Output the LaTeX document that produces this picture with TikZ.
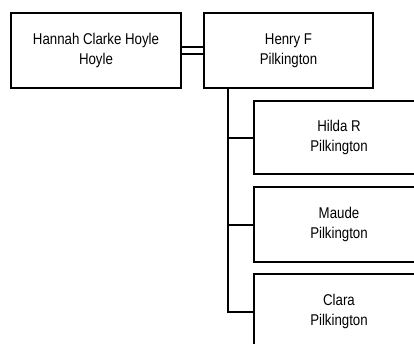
\documentclass[tikz,border=0pt]{standalone}
\usepackage{fontspec}
\setmainfont{Liberation Sans}[FakeStretch=0.85]
\begin{document}
\begin{tikzpicture}[x=1pt,y=-1pt,
  person/.style={draw=black, line width=2pt, fill=white, minimum width=170pt, minimum height=75pt,
    inner sep=0pt, align=center, font=\fontsize{15.6pt}{20.5pt}\selectfont},
  link/.style={draw=black, line width=2pt}]
\clip (0,0) rectangle (414,343);
\fill[white] (0,0) rectangle (414,343);
\node[person] (hannah) at (96,50.5) {Hannah Clarke Hoyle\\Hoyle};
\node[person, minimum width=169pt] (henry) at (288.5,50.5) {Henry F\\Pilkington};
\node[person, minimum height=73pt] (hilda) at (339,137.5) {Hilda R\\Pilkington};
\node[person] (maude) at (339,224.5) {Maude\\Pilkington};
\node[person] (clara) at (339,311.5) {Clara\\Pilkington};
\draw[link] ([yshift=-3.5pt]hannah.east) -- ([yshift=-3.5pt]henry.west);
\draw[link] ([yshift=3.5pt]hannah.east) -- ([yshift=3.5pt]henry.west);
\coordinate (trunk) at ([xshift=25pt]henry.south west);
\draw[link] (trunk) |- (clara.west);
\draw[link] (trunk |- hilda.west) -- (hilda.west);
\draw[link] (trunk |- maude.west) -- (maude.west);
\end{tikzpicture}
\end{document}
